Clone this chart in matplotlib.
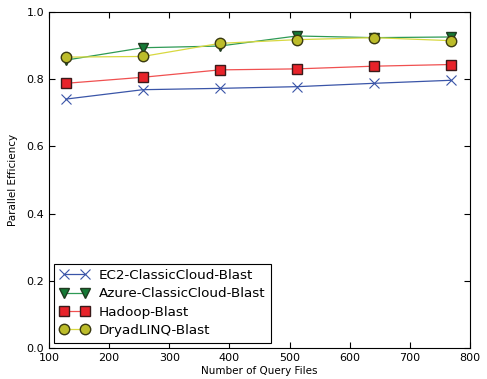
import matplotlib
matplotlib.use('Agg')
from matplotlib import pyplot as plt

query_files = [128, 256, 384, 512, 640, 768]
ec2 = [0.741, 0.769, 0.773, 0.778, 0.788, 0.797]
azure = [0.857, 0.894, 0.899, 0.929, 0.924, 0.926]
hadoop = [0.788, 0.806, 0.828, 0.831, 0.839, 0.844]
dryad = [0.866, 0.868, 0.907, 0.918, 0.924, 0.915]

plt.rcParams['font.size'] = 8
plt.rcParams['xtick.direction'] = 'in'
plt.rcParams['ytick.direction'] = 'in'

fig = plt.figure(figsize=(4.87, 3.79), dpi=100)
ax = fig.add_axes([0.1006, 0.082, 0.8645, 0.886])

ax.plot(query_files, ec2, marker='x', color='#3a55a8', markersize=7.5,
        markeredgewidth=0.8, linewidth=0.9, label='EC2-ClassicCloud-Blast')
ax.plot(query_files, azure, marker='v', color='#2e9a55', markerfacecolor='#157a36',
        markeredgecolor='#1f3a20', markersize=7.5, linewidth=0.9,
        label='Azure-ClassicCloud-Blast')
ax.plot(query_files, hadoop, marker='s', color='#f05050', markerfacecolor='#e8232a',
        markeredgecolor='#3a1a1a', markersize=7.5, linewidth=0.9, label='Hadoop-Blast')
ax.plot(query_files, dryad, marker='o', color='#d8d840', markerfacecolor='#bcbc2a',
        markeredgecolor='#3a3a10', markersize=7.5, linewidth=0.9, label='DryadLINQ-Blast')

ax.set_xlim(100, 800)
ax.set_ylim(0.0, 1.0)
ax.set_xticks([100, 200, 300, 400, 500, 600, 700, 800])
ax.set_yticks([0.0, 0.2, 0.4, 0.6, 0.8, 1.0])
ax.tick_params(top=True, right=True, length=4, labelsize=8)
ax.set_xlabel('Number of Query Files', fontsize=7.5, labelpad=2)
ax.set_ylabel('Parallel Efficiency', fontsize=7.5, labelpad=6)

leg = ax.legend(loc='lower left', fontsize=9.7, fancybox=False, framealpha=1,
                edgecolor='black', borderpad=0.4, handlelength=2.2, numpoints=2,
                labelspacing=0.4, borderaxespad=0.4, handletextpad=0.7)
leg.get_frame().set_linewidth(0.8)

fig.savefig('out.png', dpi=100)
